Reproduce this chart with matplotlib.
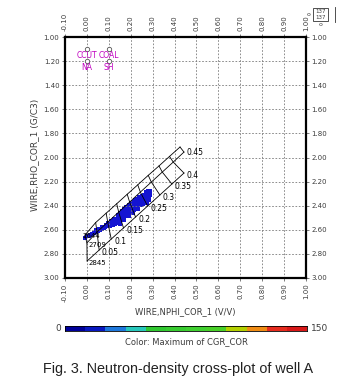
import numpy as np
import matplotlib.pyplot as plt
from matplotlib.colors import ListedColormap
from matplotlib.patches import Rectangle

# axis ticks
X_TICKS = [-0.10, 0.00, 0.10, 0.20, 0.30, 0.40, 0.50, 0.60, 0.70, 0.80, 0.90, 1.00]
Y_TICKS = [1.00, 1.20, 1.40, 1.60, 1.80, 2.00, 2.20, 2.40, 2.60, 2.80, 3.00]

# lithology overlay (porosity 0 .. 0.45)
PHI = [0.0, 0.05, 0.1, 0.15, 0.2, 0.25, 0.3, 0.35, 0.4, 0.45]
SAND_NPHI = [-0.009, 0.040, 0.088, 0.136, 0.184, 0.232, 0.280, 0.329, 0.377, 0.425]
SAND_RHOB = [2.644, 2.540, 2.462, 2.384, 2.305, 2.227, 2.148, 2.070, 1.991, 1.913]
LIME_NPHI = [0.000, 0.046, 0.095, 0.145, 0.195, 0.244, 0.294, 0.344, 0.394, 0.443]
LIME_RHOB = [2.709, 2.619, 2.536, 2.453, 2.370, 2.287, 2.204, 2.121, 2.038, 1.955]
DOLO_NPHI = [0.001, 0.056, 0.111, 0.167, 0.222, 0.277, 0.333, 0.388, 0.443]
DOLO_RHOB = [2.859, 2.768, 2.677, 2.585, 2.494, 2.403, 2.311, 2.220, 2.129]
MATRIX_LABELS = ["2644", "2709", "2845"]

# mineral points
MIN_NPHI = [0.00, 0.10, 0.00, 0.10]
MIN_RHOB = [1.10, 1.10, 1.20, 1.20]
MIN_NAMES = ["CCUT", "COAL", "NA", "SH"]

# well A samples
CLOUD_NPHI = [-0.008, 0.000, 0.008, 0.016, 0.025, 0.034, 0.043, 0.052, 0.060, 0.068,
              0.076, 0.084, 0.092, 0.100, 0.040, 0.055, 0.070, 0.085, 0.095, 0.110,
              0.120, 0.130, 0.112, 0.125, 0.135, 0.105, 0.118, 0.128,
              0.140, 0.150, 0.160, 0.170, 0.180, 0.190, 0.200, 0.210, 0.220, 0.230,
              0.240, 0.250, 0.260, 0.270, 0.280, 0.288,
              0.140, 0.150, 0.160, 0.170, 0.180, 0.190, 0.200, 0.210, 0.220, 0.230,
              0.240, 0.250, 0.260, 0.270, 0.280, 0.288,
              0.145, 0.155, 0.165, 0.175, 0.185, 0.195, 0.205, 0.215, 0.225, 0.235,
              0.245, 0.255, 0.265, 0.275, 0.285,
              0.270, 0.280, 0.290, 0.285, 0.275, 0.150, 0.170, 0.190, 0.210, 0.235]
CLOUD_RHOB = [2.665, 2.655, 2.648, 2.640, 2.632, 2.625, 2.616, 2.607, 2.600, 2.592,
              2.585, 2.575, 2.566, 2.558, 2.605, 2.595, 2.575, 2.560, 2.545, 2.548,
              2.536, 2.522, 2.525, 2.512, 2.540, 2.570, 2.558, 2.548,
              2.508, 2.495, 2.480, 2.463, 2.446, 2.430, 2.415, 2.404, 2.391, 2.378,
              2.364, 2.354, 2.344, 2.332, 2.320, 2.310,
              2.475, 2.460, 2.445, 2.428, 2.410, 2.395, 2.380, 2.369, 2.356, 2.343,
              2.330, 2.320, 2.309, 2.297, 2.285, 2.278,
              2.535, 2.520, 2.505, 2.488, 2.472, 2.456, 2.445, 2.433, 2.420, 2.405,
              2.393, 2.385, 2.373, 2.361, 2.352,
              2.285, 2.280, 2.285, 2.345, 2.375, 2.548, 2.520, 2.488, 2.460, 2.428]

# colour scale of CGR_COR
CBAR_COLORS = ["#00009a", "#0818c0", "#1e78dc", "#28c8bc", "#30c830", "#38cc30",
               "#40d030", "#48d028", "#b4d000", "#f08c14", "#e62c1e", "#d81818"]
CBAR_MIN, CBAR_MAX = 0, 150

TXT = "#3c3c3c"
W, H = 361, 392

fig = plt.figure(figsize=(W / 100, H / 100), dpi=100)
ax = fig.add_axes([65 / W, 1 - 278 / H, 241 / W, 241 / H])
ax.set_xlim(-0.10, 1.00)
ax.set_ylim(3.00, 1.00)
ax.set_xticks(X_TICKS)
ax.set_yticks(Y_TICKS)
ax.set_xticklabels(["%.2f" % v for v in X_TICKS])
ax.set_yticklabels(["%.2f" % v for v in Y_TICKS])
ax.tick_params(top=True, labeltop=True, right=True, labelright=True,
               labelsize=5, labelcolor=TXT, length=2, width=0.6, color="#666666",
               pad=2)
ax.tick_params(axis="x", labelrotation=90)
ax.grid(True, color="#7a7a7a", lw=0.6, ls=(0, (2, 2)))
for s in ax.spines.values():
    s.set_linewidth(1.6)
    s.set_color("black")

# overlay grid
ax.plot(SAND_NPHI, SAND_RHOB, color="black", lw=0.6)
ax.plot(LIME_NPHI, LIME_RHOB, color="black", lw=0.6)
ax.plot(DOLO_NPHI, DOLO_RHOB, color="black", lw=0.6)
for i in range(len(PHI)):
    xs = [SAND_NPHI[i], LIME_NPHI[i]]
    ys = [SAND_RHOB[i], LIME_RHOB[i]]
    if i < len(DOLO_NPHI):
        xs.append(DOLO_NPHI[i])
        ys.append(DOLO_RHOB[i])
    ax.plot(xs, ys, color="black", lw=0.6)
for i in range(1, len(DOLO_NPHI)):
    ax.annotate("%g" % PHI[i], (DOLO_NPHI[i], DOLO_RHOB[i]), xytext=(2, -1.5),
                textcoords="offset points", fontsize=5.5, color="black", va="center")
ax.annotate("%g" % PHI[-1], (LIME_NPHI[-1], LIME_RHOB[-1]), xytext=(2, 0),
            textcoords="offset points", fontsize=5.5, color="black", va="center")

# samples
ax.scatter(CLOUD_NPHI, CLOUD_RHOB, marker="s", s=12, color="#1414d2", lw=0)

mat = [(SAND_NPHI[0], SAND_RHOB[0]), (LIME_NPHI[0], LIME_RHOB[0]), (DOLO_NPHI[0], DOLO_RHOB[0])]
offs = [(-2, -0.8), (1, -1.8), (1, -1.5)]
for lab, p, o in zip(MATRIX_LABELS, mat, offs):
    ax.annotate(lab, p, xytext=o, textcoords="offset points", fontsize=5,
                color="black", va="center", zorder=5)

# mineral markers
ax.scatter(MIN_NPHI, MIN_RHOB, marker="o", s=10, facecolor="white",
           edgecolor="#555555", lw=0.6, zorder=3)
for x, y, n in zip(MIN_NPHI, MIN_RHOB, MIN_NAMES):
    ax.annotate(n, (x, y), xytext=(0, -1.5), textcoords="offset points",
                fontsize=5.5, color="#c000c0", ha="center", va="top")

fig.text(35 / W, 1 - 155 / H, "WIRE,RHO_COR_1 (G/C3)", rotation=90, fontsize=6.5,
         color=TXT, ha="center", va="center")
fig.text(185 / W, 1 - 312 / H, "WIRE,NPHI_COR_1 (V/V)", fontsize=6,
         color=TXT, ha="center", va="center")

# colour bar
cax = fig.add_axes([65 / W, 1 - 331 / H, 242 / W, 5 / H])
vals = np.linspace(CBAR_MIN, CBAR_MAX, len(CBAR_COLORS) + 1)
cax.pcolormesh(vals, [0, 1], [np.arange(len(CBAR_COLORS))],
               cmap=ListedColormap(CBAR_COLORS))
cax.set_xticks([])
cax.set_yticks([])
for s in cax.spines.values():
    s.set_linewidth(0.6)
fig.text(61 / W, 1 - 328.5 / H, str(CBAR_MIN), fontsize=6.5, color=TXT,
         ha="right", va="center")
fig.text(311 / W, 1 - 328.5 / H, str(CBAR_MAX), fontsize=6.5, color=TXT,
         ha="left", va="center")
fig.text(186 / W, 1 - 342 / H, "Color: Maximum of CGR_COR", fontsize=6,
         color=TXT, ha="center", va="center")

# small corner icon
fig.text(309 / W, 1 - 14 / H, "o", fontsize=4.5, color=TXT, ha="center", va="center")
fig.text(321 / W, 1 - 25 / H, "o", fontsize=4.5, color=TXT, ha="center", va="center")
fig.patches.append(Rectangle((313 / W, 1 - 21 / H), 15 / W, 13 / H, fill=False,
                             lw=0.6, ec="#333333", transform=fig.transFigure))
fig.text(320.5 / W, 1 - 11.5 / H, "137", fontsize=4, color=TXT, ha="center", va="center")
fig.text(320.5 / W, 1 - 17.5 / H, "137", fontsize=4, color=TXT, ha="center", va="center")
fig.add_artist(plt.Line2D([335 / W, 335 / W], [1 - 22 / H, 1 - 7 / H], lw=0.6,
                          color="#333333"))

fig.text(178 / W, 1 - 369 / H, "Fig. 3. Neutron-density cross-plot of well A",
         fontsize=10.4, family="Liberation Sans", color="#222222",
         ha="center", va="center")

fig.savefig("out.png", dpi=100)
